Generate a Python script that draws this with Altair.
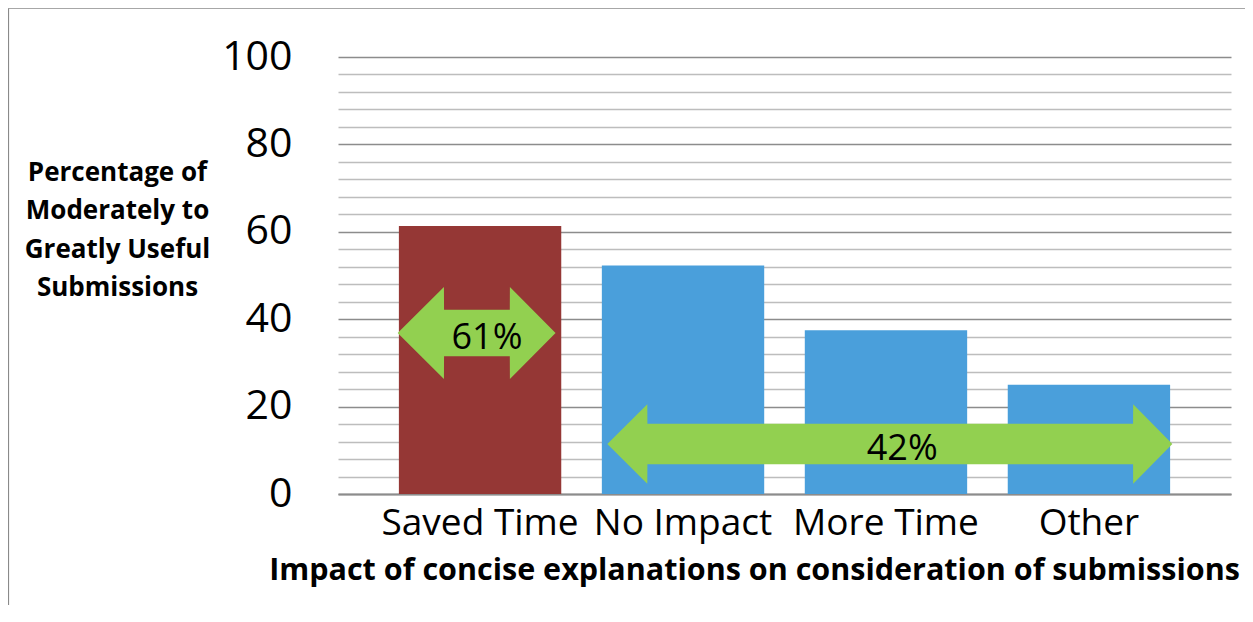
import altair as alt
import pandas as pd

# ---- data ----
CATEGORIES = ["Saved Time", "No Impact", "More Time", "Other"]
VALUES = [61.3, 52.3, 37.5, 25.0]
BAR_COLORS = ["#953735", "#4a9fdb", "#4a9fdb", "#4a9fdb"]

# arrow annotations (x in category-step units, 0 = centre of first category; y in %)
ARROW_ID = ["a61"] * 6 + ["a42"] * 6
ARROW_X = [-0.406, -0.178, -0.1775, 0.1465, 0.147, 0.372,
           0.627, 0.824, 0.8245, 3.2175, 3.218, 3.411]
ARROW_CENTER = [36.84] * 6 + [11.44] * 6
ARROW_HALF = [0.0, 10.5, 5.33, 5.33, 10.5, 0.0,
              0.0, 9.07, 4.65, 4.65, 9.07, 0.0]

LABEL_TEXT = ["61%", "42%"]
LABEL_X = [0.034, 2.08]
LABEL_Y = [35.6, 10.4]

Y_TICKS = list(range(0, 101, 4))
X_DOMAIN = [-0.7, 3.7]
Y_DOMAIN = [0, 100]

FONT = "Open Sans"

bars_df = pd.DataFrame({"cat": CATEGORIES, "val": VALUES})
arrow_df = pd.DataFrame({
    "arrow": ARROW_ID,
    "x": ARROW_X,
    "lo": [c - h for c, h in zip(ARROW_CENTER, ARROW_HALF)],
    "hi": [c + h for c, h in zip(ARROW_CENTER, ARROW_HALF)],
})
label_df = pd.DataFrame({"t": LABEL_TEXT, "x": LABEL_X, "y": LABEL_Y})

bars = alt.Chart(bars_df).mark_bar().encode(
    x=alt.X(
        "cat:N",
        sort=CATEGORIES,
        scale=alt.Scale(paddingInner=0.2, paddingOuter=0.3),
        axis=alt.Axis(
            labelAngle=0,
            labelFont=FONT,
            labelFontSize=37,
            labelColor="black",
            labelLimit=0,
            ticks=False,
            tickSize=0,
            labelPadding=11,
            domainColor="#8c8c8c",
            domainWidth=2,
            title="Impact of concise explanations on consideration of submissions",
            titleFont=FONT,
            titleFontSize=30.5,
            titleFontWeight="bold",
            titleColor="black",
            titleAlign="center",
            titleBaseline="middle",
            titleLimit=0,
            titleX=416,
            titleY=76,
        ),
    ),
    y=alt.Y(
        "val:Q",
        scale=alt.Scale(domain=Y_DOMAIN, nice=False),
        axis=alt.Axis(
            values=Y_TICKS,
            labelExpr="datum.value % 20 === 0 ? datum.label : ''",
            labelFont=FONT,
            labelFontSize=41,
            labelColor="black",
            labelBaseline="middle",
            labelOverlap=False,
            ticks=False,
            tickSize=0,
            domain=False,
            labelPadding=46,
            gridColor={"condition": {"test": "datum.value % 20 === 0", "value": "#8c8c8c"},
                       "value": "#bdbdbd"},
            gridWidth=1.7,
            title=["Percentage of", "Moderately to", "Greatly Useful", "Submissions"],
            titleFont=FONT,
            titleFontSize=26,
            titleFontWeight="bold",
            titleColor="black",
            titleAngle=0,
            titleAlign="center",
            titleBaseline="middle",
            titleLineHeight=38.5,
            titleLimit=0,
            titleX=-221,
            titleY=115,
        ),
    ),
    color=alt.Color("cat:N", scale=alt.Scale(domain=CATEGORIES, range=BAR_COLORS), legend=None),
)

arrows = alt.Chart(arrow_df).mark_area(color="#92d050", opacity=1, interpolate="linear").encode(
    x=alt.X("x:Q", scale=alt.Scale(domain=X_DOMAIN, nice=False, zero=False), axis=None),
    y=alt.Y("lo:Q", scale=alt.Scale(domain=Y_DOMAIN, nice=False), axis=None, stack=None),
    y2="hi:Q",
    detail="arrow:N",
)

labels = alt.Chart(label_df).mark_text(
    font=FONT, fontSize=36, color="black", align="center", baseline="middle"
).encode(
    x=alt.X("x:Q", scale=alt.Scale(domain=X_DOMAIN, nice=False, zero=False), axis=None),
    y=alt.Y("y:Q", scale=alt.Scale(domain=Y_DOMAIN, nice=False), axis=None),
    text="t:N",
)

frame_df = pd.DataFrame({"k": [0]})
left_border = alt.Chart(frame_df).mark_rule(color="#8a8a8a", strokeWidth=1.2).encode(
    x=alt.value(-329.5), y=alt.value(-48.8), y2=alt.value(700)
)
top_border = alt.Chart(frame_df).mark_rule(color="#8a8a8a", strokeWidth=1.2).encode(
    x=alt.value(-329.5), x2=alt.value(930), y=alt.value(-48.8)
)

chart = (
    alt.layer(bars, arrows, labels, left_border, top_border)
    .resolve_scale(x="independent", y="independent")
    .properties(
        width=893,
        height=437,
        autosize=alt.AutoSizeParams(type="none"),
        padding={"left": 330, "top": 49, "right": 14, "bottom": 111},
        background="white",
    )
    .configure_view(stroke=None)
)

chart.save("out.html", embed_options={"renderer": "svg", "actions": False})
